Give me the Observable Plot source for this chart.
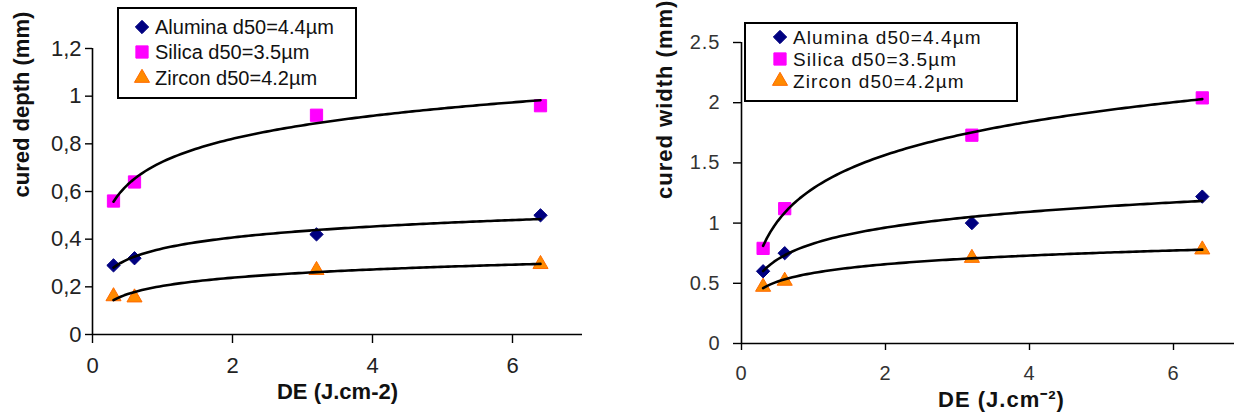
<!DOCTYPE html>
<html>
<head>
<meta charset="utf-8">
<script src="https://cdn.jsdelivr.net/npm/d3@7"></script>
<script src="https://cdn.jsdelivr.net/npm/@observablehq/plot@0.6"></script>
<style>
  html, body { margin: 0; padding: 0; background: #fff; }
  #root { position: relative; width: 1234px; height: 420px; overflow: hidden; background: #fff; font-family: "Liberation Sans", Arial, sans-serif; }
  .panel { position: absolute; top: 0; height: 420px; }
  .panel svg { max-width: none !important; }
  .legend { position: absolute; box-sizing: border-box; border: 2px solid #000; background: #fff; z-index: 2; }
  .legend .row { position: absolute; white-space: nowrap; color: #111; }
  .legend svg { position: absolute; overflow: visible; }
</style>
</head>
<body>
<div id="root"></div>
<script>
// ---------- data ----------
const de = [0.3, 0.6, 3.2, 6.4];                       // DE (J.cm-2)
const seriesNames = ["Alumina d50=4.4µm", "Silica d50=3.5µm", "Zircon d50=4.2µm"];
const depthAlumina = [0.29, 0.32, 0.42, 0.50];
const depthSilica  = [0.56, 0.64, 0.92, 0.96];
const depthZircon  = [0.16, 0.155, 0.27, 0.295];
const widthAlumina = [0.60, 0.75, 1.00, 1.22];
const widthSilica  = [0.79, 1.12, 1.73, 2.04];
const widthZircon  = [0.47, 0.52, 0.71, 0.78];
const xTicks = [0, 2, 4, 6];
const depthTicks = [0, 0.2, 0.4, 0.6, 0.8, 1, 1.2];
const widthTicks = [0, 0.5, 1, 1.5, 2, 2.5];
const depthLabel = "cured depth (mm)";
const widthLabel = "cured width (mm)";
const xLabelLeft = "DE (J.cm-2)";
const xLabelRight = "DE (J.cm\u207B\u00B2)";

// ---------- styles ----------
const seriesStyle = [
  {symbol: "diamond2", fill: "#000080", stroke: "#000080", r: 6.0},
  {symbol: "square",   fill: "#ff00ff", stroke: "#ff00ff", r: 6.9},
  {symbol: "triangle", fill: "#ff8a00", stroke: "#ff6a00", r: 5.6}
];

// logarithmic trend line (least squares of y on ln x), as the spreadsheet did
function logTrend(xs, ys) {
  const lx = xs.map(Math.log);
  const mx = d3.mean(lx), my = d3.mean(ys);
  const a = d3.sum(lx, (v, i) => (v - mx) * (ys[i] - my)) / d3.sum(lx, v => (v - mx) ** 2);
  const b = my - a * mx;
  const [x0, x1] = d3.extent(xs);
  return d3.range(0, 121).map(i => {
    const x = x0 + (x1 - x0) * i / 120;
    return {x, y: a * Math.log(x) + b};
  });
}

function makeChart(o) {
  const marks = [
    Plot.ruleY([0], {stroke: "#000", strokeWidth: 1.6}),
    Plot.ruleX([0], {y1: 0, y2: o.yMax, stroke: "#000", strokeWidth: 1.6}),
    Plot.axisX({ticks: xTicks, tickSize: o.xTickSize, tickPadding: o.xTickPad, tickFormat: d => String(d),
      label: null, stroke: "#000", strokeWidth: 1.4, fill: o.tickColor}),
    Plot.axisY({ticks: o.yTicks, tickSize: o.yTickSize, tickPadding: o.yTickPad, tickFormat: o.fmt,
      label: null, stroke: "#000", strokeWidth: 1.4, fill: o.tickColor})
  ];
  o.values.forEach((ys, i) => {
    const pts = de.map((x, j) => ({x, y: ys[j]}));
    const s = seriesStyle[i];
    marks.push(Plot.dot(pts, {x: "x", y: "y", symbol: () => s.symbol, r: s.r, fill: s.fill, stroke: s.stroke, strokeWidth: 1}));
  });
  o.values.forEach(ys => {
    marks.push(Plot.line(logTrend(de, ys), {x: "x", y: "y", stroke: "#000", strokeWidth: 2.6}));
  });
  marks.push(Plot.text([o.xLabel], {text: d => d, frameAnchor: "bottom", dx: o.xLabDx, dy: o.xLabDy,
    fontWeight: "bold", fontSize: o.labelSize, fill: "#111"}));
  marks.push(Plot.text([o.yLabel], {text: d => d, frameAnchor: "left", rotate: -90, dx: o.yLabDx, dy: o.yLabDy,
    fontWeight: "bold", fontSize: o.labelSize, fill: "#111"}));
  return Plot.plot({
    width: o.width, height: 420,
    marginLeft: o.ml, marginRight: o.mr, marginTop: o.mt, marginBottom: o.mb,
    style: {fontFamily: '"Liberation Sans", Arial, sans-serif', fontSize: o.tickSize + "px", background: "transparent", overflow: "visible", letterSpacing: o.ls, maxWidth: "none"},
    x: {domain: [0, 7]},
    y: {domain: [0, o.yMax]},
    symbol: {type: "identity"},
    marks
  });
}

function legend(root, o) {
  const box = document.createElement("div");
  box.className = "legend";
  Object.assign(box.style, {left: o.left + "px", top: o.top + "px", width: o.w + "px", height: o.h + "px"});
  seriesNames.forEach((name, i) => {
    const s = seriesStyle[i];
    const cy = o.rows[i];
    const svg = d3.create("svg").attr("width", 1).attr("height", 1)
      .style("left", o.mx + "px").style("top", cy + "px");
    const sym = {diamond2: d3.symbolDiamond2, square: d3.symbolSquare, triangle: d3.symbolTriangle}[s.symbol];
    svg.append("path").attr("d", d3.symbol(sym, Math.PI * s.r * s.r)())
      .attr("fill", s.fill).attr("stroke", s.stroke);
    box.appendChild(svg.node());
    const t = document.createElement("div");
    t.className = "row";
    t.textContent = name;
    Object.assign(t.style, {left: o.tx + "px", top: (cy - o.lh / 2) + "px", height: o.lh + "px", lineHeight: o.lh + "px",
      fontSize: o.fs + "px", letterSpacing: o.ls});
    box.appendChild(t);
  });
  root.appendChild(box);
}

const root = document.getElementById("root");

const left = makeChart({
  width: 600, ml: 92, mr: 18, mt: 48, mb: 86, yMax: 1.2, yTicks: depthTicks,
  fmt: d => String(d).replace(".", ","), values: [depthAlumina, depthSilica, depthZircon],
  xTickSize: 9, xTickPad: 14, yTickSize: 7, yTickPad: 4, tickSize: 22, tickColor: "#222", ls: "0px",
  xLabel: xLabelLeft, yLabel: depthLabel, labelSize: 22,
  xLabDx: 0, xLabDy: 64, yLabDx: -71, yLabDy: 6
});
const lw = document.createElement("div"); lw.className = "panel";
Object.assign(lw.style, {left: "0px", width: "600px"});
lw.appendChild(left); root.appendChild(lw);

const right = makeChart({
  width: 634, ml: 121, mr: 9, mt: 42, mb: 77, yMax: 2.5, yTicks: widthTicks,
  fmt: d => String(d), values: [widthAlumina, widthSilica, widthZircon],
  xTickSize: 7, xTickPad: 15, yTickSize: 8, yTickPad: 13, tickSize: 20, tickColor: "#333", ls: "1px",
  xLabel: xLabelRight, yLabel: widthLabel, labelSize: 22,
  xLabDx: 8, xLabDy: 63, yLabDx: -77, yLabDy: 6
});
const rw = document.createElement("div"); rw.className = "panel";
Object.assign(rw.style, {left: "620px", width: "634px"});
rw.appendChild(right); root.appendChild(rw);

legend(root, {left: 117, top: 7, w: 240, h: 92, mx: 23, tx: 36, rows: [18, 43, 69], fs: 20, ls: "0px", lh: 24});
legend(root, {left: 744, top: 22, w: 274, h: 80, mx: 34, tx: 47, rows: [13, 35, 57], fs: 19, ls: "1.1px", lh: 21});
</script>
</body>
</html>
